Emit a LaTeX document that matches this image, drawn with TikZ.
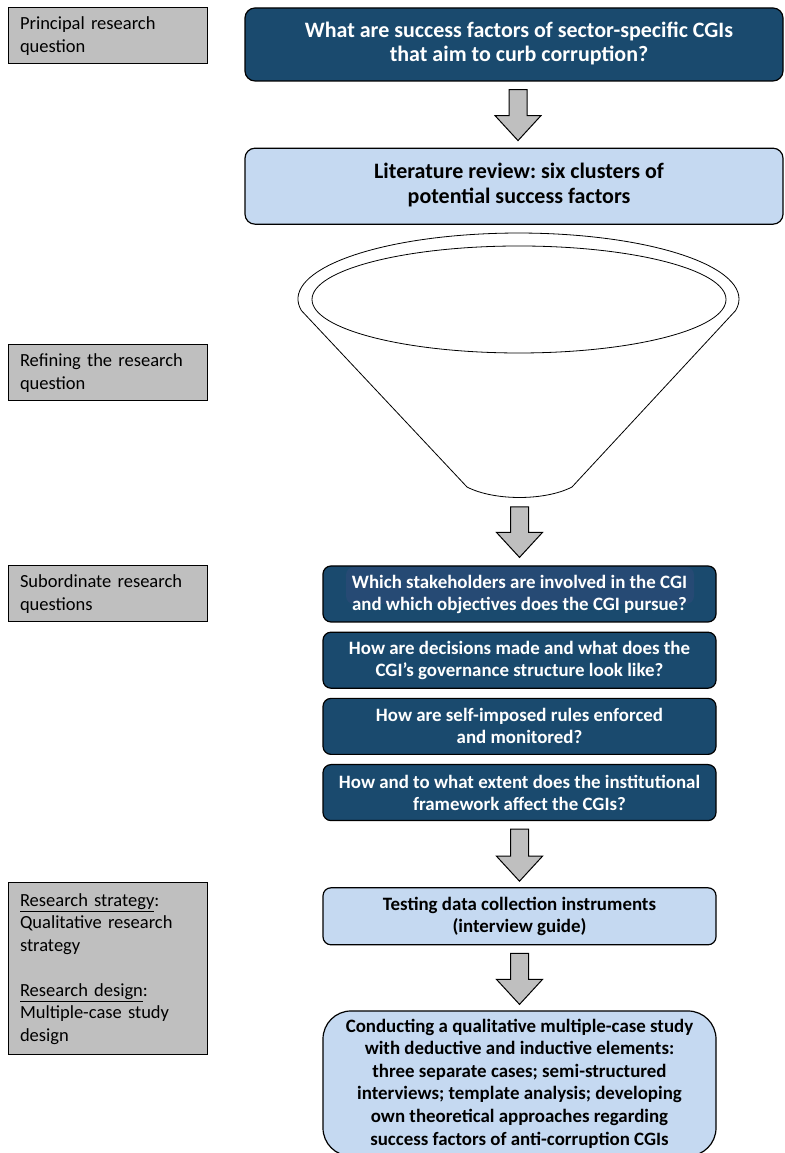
\documentclass[tikz,border=0pt]{standalone}
\usepackage{fontspec}
\setmainfont{Carlito}
\frenchspacing
\usetikzlibrary{positioning,calc}
\definecolor{darkblue}{RGB}{26,74,110}
\definecolor{hlblue}{RGB}{38,74,116}
\definecolor{lightblue}{RGB}{197,217,241}
\definecolor{boxgray}{RGB}{191,191,191}

% block arrow from a top coordinate down to a tip coordinate
\newcommand{\blockarrow}[2]{%
    \draw [downarrow] ($(#1)+(-9,0)$) -- ($(#2)+(-9,25)$) -- ($(#2)+(-23,25)$) -- (#2) -- ($(#2)+(23,25)$) -- ($(#2)+(9,25)$) -- ($(#1)+(9,0)$) -- cycle;}
% two centred lines, pushed a little to the right
\newcommand{\offsetlines}[2]{\hspace*{10pt}\begin{tabular}{@{}c@{}}#1\\ #2\end{tabular}}

\begin{document}
\begin{tikzpicture}[x=1pt, y=1pt, node distance=9pt]
    % Define styles
    \tikzstyle{sidebox} = [rectangle, draw, line width=1pt, fill=boxgray, text width=175pt, inner xsep=12pt, inner ysep=4pt, minimum height=56pt, align=left, font=\fontsize{18.5}{22.5}\selectfont]
    \tikzstyle{mainq} = [rectangle, draw, line width=1.2pt, fill=darkblue, text=white, rounded corners=10pt, minimum width=538pt, minimum height=73pt, inner sep=0pt, font=\bfseries\fontsize{22}{24.5}\selectfont]
    \tikzstyle{litstep} = [mainq, fill=lightblue, text=black, minimum height=76pt]
    \tikzstyle{subq} = [rectangle, draw, line width=1.2pt, fill=darkblue, text=white, rounded corners=8pt, minimum width=393pt, minimum height=56pt, align=center, font=\bfseries\fontsize{18.9}{22}\selectfont]
    \tikzstyle{methstep} = [subq, fill=lightblue, text=black]
    \tikzstyle{downarrow} = [draw, line width=1pt, fill=boxgray, line join=miter]
    \tikzstyle{funnelline} = [draw, line width=0.8pt, fill=white]

    \useasboundingbox (0,0) rectangle (784,1153);

    % Left column
    \node [sidebox] (principal) at (107.5,1117) {Principal research\\ question};
    \node [sidebox] (refining) at (107.5,780) {Refining the research\\ question};
    \node [sidebox] (subordinate) at (107.5,559) {Subordinate research\\ questions};
    \node [sidebox, minimum height=172pt] (strategy) at (107.5,184) {\underline{Research strategy}:\\ Qualitative research\\ strategy\\[22.5pt] \underline{Research design}:\\ Multiple-case study\\ design};

    % Main column
    \node [mainq] (question) at (514,1108.5) {\offsetlines{What are success factors of sector-specific CGIs}{that aim to curb corruption?}};
    \node [litstep, below=66pt of question] (litreview) {\offsetlines{Literature review: six clusters of}{potential success factors}};
    \coordinate (arrowAtop) at ([xshift=4pt,yshift=-8pt]question.south);
    \coordinate (arrowAtip) at ([xshift=4pt,yshift=7pt]litreview.north);
    \blockarrow{arrowAtop}{arrowAtip}

    % Funnel
    \draw [funnelline] (301.35,842.5) arc[start angle=190, end angle=-10, x radius=220.5, y radius=66] -- (572,666) .. controls (545,652) and (494,652) .. (467,666) -- cycle;
    \draw [funnelline] (519,853.5) ellipse [x radius=207, y radius=53.5];
    \coordinate (funnelbottom) at (519.5,655);

    % Subordinate questions
    \node [subq, path picture={\fill [hlblue] ([xshift=23pt,yshift=-1pt]path picture bounding box.north west) rectangle ([xshift=-22pt,yshift=-38pt]path picture bounding box.north east);}] (stakeholders) at (519.5,559) {Which stakeholders are involved in the CGI\\ and which objectives does the CGI pursue?};
    \node [subq, below=of stakeholders] (decisions) {How are decisions made and what does the\\ CGI’s governance structure look like?};
    \node [subq, below=of decisions] (rules) {How are self-imposed rules enforced\\ and monitored?};
    \node [subq, below=of rules] (framework) {How and to what extent does the institutional\\ framework affect the CGIs?};
    \coordinate (arrowBtop) at ([yshift=-9pt]funnelbottom);
    \coordinate (arrowBtip) at ([yshift=8pt]stakeholders.north);
    \blockarrow{arrowBtop}{arrowBtip}

    % Methods
    \node [methstep, minimum height=57pt, below=66pt of framework] (testing) {Testing data collection instruments\\ (interview guide)};
    \node [methstep, rounded corners=28pt, minimum height=145pt, below=65pt of testing, font=\bfseries\fontsize{18.9}{22.6}\selectfont] (casestudy) {Conducting a qualitative multiple-case study\\ with deductive and inductive elements:\\ three separate cases; semi-structured\\ interviews; template analysis; developing\\ own theoretical approaches regarding\\ success factors of anti-corruption CGIs};
    \coordinate (arrowCtop) at ([yshift=-8pt]framework.south);
    \coordinate (arrowCtip) at ([yshift=6pt]testing.north);
    \blockarrow{arrowCtop}{arrowCtip}
    \coordinate (arrowDtop) at ([yshift=-8pt]testing.south);
    \coordinate (arrowDtip) at ([yshift=6pt]casestudy.north);
    \blockarrow{arrowDtop}{arrowDtip}
\end{tikzpicture}
\end{document}
